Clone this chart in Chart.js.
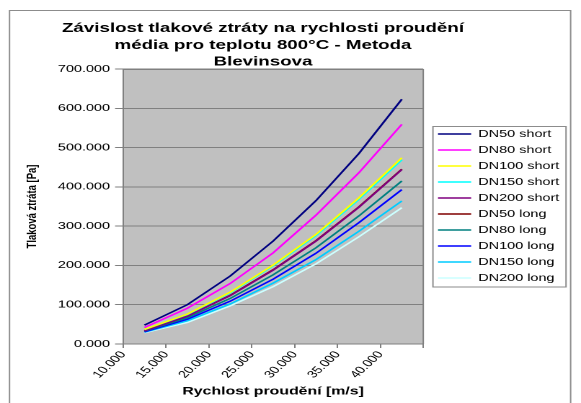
<!DOCTYPE html>
<html><head><meta charset="utf-8">
<script src="https://cdn.jsdelivr.net/npm/chart.js@4.4.1/dist/chart.umd.min.js"></script>
<style>
html,body{margin:0;padding:0;background:#fff;overflow:hidden;}
#wrap{width:403px;height:403px;transform:scaleX(1.441687);transform-origin:0 0;}
</style></head><body>
<div id="wrap"><canvas id="c" width="403" height="403"></canvas></div>
<script>
// ---- data ----
const speedLabels = ['10.000','15.000','20.000','25.000','30.000','35.000','40.000'];
const seriesNames = ['DN50 short','DN80 short','DN100 short','DN150 short','DN200 short',
                     'DN50 long','DN80 long','DN100 long','DN150 long','DN200 long'];
const dn50Short  = [48, 100, 173, 262, 365, 485, 623];
const dn80Short  = [42,  91, 154, 232, 328, 436, 559];
const dn100Short = [37,  76, 132, 201, 279, 372, 474];
const dn150Short = [37,  75, 130, 199, 276, 368, 469];
const dn200Short = [34,  71, 123, 188, 262, 348, 444];
const dn50Long   = [34,  71, 124, 189, 263, 349, 445];
const dn80Long   = [33,  67, 116, 176, 245, 326, 415];
const dn100Long  = [31,  63, 109, 165, 231, 309, 393];
const dn150Long  = [30,  59, 102, 155, 215, 287, 364];
const dn200Long  = [29,  55,  97, 146, 204, 273, 347];
const yTickStep = 100, yMin = 0, yMax = 700;

const seriesValues = [dn50Short, dn80Short, dn100Short, dn150Short, dn200Short,
                      dn50Long, dn80Long, dn100Long, dn150Long, dn200Long];
const seriesColors = ['#000080','#FF00FF','#FFFF00','#00FFFF','#800080',
                      '#800000','#008080','#0000FF','#00CCFF','#CCFFFF'];

Chart.defaults.font.family = "'Liberation Sans', Arial, sans-serif";
Chart.defaults.color = '#000';

const AREA = {left: 85.3, right: 291.3, top: 69, bottom: 344};

const deco = {
  id: 'deco',
  afterLayout(chart) {
    const lg = chart.legend;
    if (lg) { lg.left = 297.8; lg.right = 400; lg.top = 123; lg.bottom = 400; }
    const t = chart.titleBlock;
    if (t) { t.left = 0; t.right = 364.8; t.top += 1.4; t.bottom += 1.4; }
  },
  beforeDraw(chart) {
    const ctx = chart.ctx, a = chart.chartArea;
    ctx.save();
    ctx.fillStyle = '#ffffff';
    ctx.fillRect(0, 0, chart.width, chart.height);
    ctx.strokeStyle = '#8c8c8c';
    ctx.lineWidth = 1;
    ctx.strokeRect(6.6, 10.5, 389.2, 430);
    ctx.fillStyle = '#c0c0c0';
    ctx.fillRect(a.left, a.top, a.right - a.left, a.bottom - a.top);
    ctx.strokeStyle = '#8c8c8c';
    ctx.strokeRect(300.3, 126.5, 92.3, 160.5);
    ctx.restore();
  },
  beforeDatasetsDraw(chart) {
    const ctx = chart.ctx, a = chart.chartArea;
    ctx.save();
    ctx.strokeStyle = '#808080';
    ctx.lineWidth = 1;
    ctx.beginPath();
    ctx.moveTo(a.left, a.top + 0.5);
    ctx.lineTo(a.right, a.top + 0.5);
    ctx.lineTo(a.right, a.bottom);
    ctx.stroke();
    ctx.restore();
  }
};

const chart = new Chart(document.getElementById('c'), {
  type: 'line',
  data: {
    labels: speedLabels,
    datasets: seriesNames.map((n, i) => ({
      label: n,
      data: seriesValues[i],
      borderColor: seriesColors[i],
      backgroundColor: seriesColors[i],
      borderWidth: 1.5,
      pointRadius: 0,
      tension: 0,
      fill: false
    }))
  },
  options: {
    responsive: false,
    animation: false,
    devicePixelRatio: 2,
    layout: {padding: {left: 0, top: 0, right: 0, bottom: 0}},
    plugins: {
      title: {
        display: true,
        text: ['Závislost tlakové ztráty na rychlosti proudění',
               'média pro teplotu 800°C - Metoda',
               'Blevinsova'],
        font: {size: 13, weight: 'bold', lineHeight: '16.7px'},
        color: '#000',
        padding: {top: 18.9, bottom: 0}
      },
      legend: {
        display: true,
        position: 'right',
        align: 'start',
        fullSize: false,
        labels: {
          usePointStyle: true,
          pointStyle: 'line',
          pointStyleWidth: 23,
          boxWidth: 23,
          padding: 6,
          font: {size: 10},
          color: '#000'
        }
      },
      tooltip: {enabled: false}
    },
    scales: {
      x: {
        type: 'category',
        offset: true,
        grid: {offset: true, drawOnChartArea: false, drawTicks: true, tickLength: 4, color: '#808080'},
        border: {display: true, color: '#808080', width: 1},
        ticks: {autoSkip: false, minRotation: 52, maxRotation: 52, labelOffset: -14.71,
                padding: 1, font: {size: 10}, color: '#000'},
        title: {display: true, text: 'Rychlost proudění [m/s]', font: {size: 11, weight: 'bold'},
                color: '#000', padding: {top: 0, bottom: 4.7}},
        afterFit(s) { s.height = 403 - AREA.bottom; }
      },
      y: {
        type: 'linear',
        min: yMin, max: yMax,
        grid: {color: '#808080', tickLength: 5.5, drawTicks: true},
        border: {display: true, color: '#808080', width: 1},
        ticks: {stepSize: yTickStep, padding: 3.5, font: {size: 10}, color: '#000',
                callback: v => Number(v).toFixed(3)},
        title: {display: true, text: 'Tlaková ztráta [Pa]', font: {size: 9.5, weight: 'bold'},
                color: '#000', padding: {top: 16.5, bottom: 0}},
        afterFit(s) { s.width = AREA.left; }
      }
    }
  },
  plugins: [deco]
});

const dRight = chart.chartArea.right - AREA.right;
chart.options.layout.padding.right = Math.max(0, dRight);
chart.update();
</script>
</body></html>
